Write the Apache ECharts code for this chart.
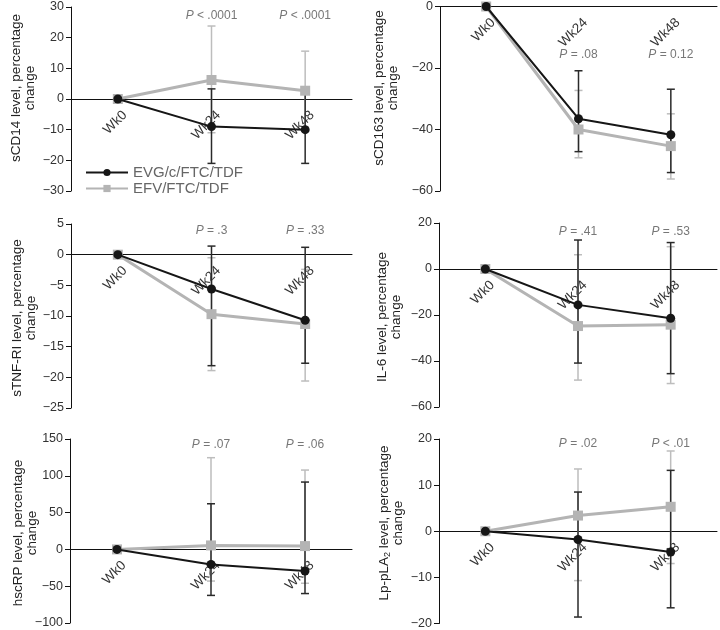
<!DOCTYPE html>
<html>
<head>
<meta charset="utf-8">
<script src="https://cdn.jsdelivr.net/npm/echarts@6/dist/echarts.min.js"></script>
<style>html,body{margin:0;padding:0;background:#fff}#c{width:720px;height:630px}</style>
</head>
<body>
<div id="c"></div>
<script>
// ---------- DATA ----------
const categories = ['Wk0', 'Wk24', 'Wk48'];
const seriesNames = ['EVG/c/FTC/TDF', 'EFV/FTC/TDF'];

const sCD14_evg = [0, -9, -10];
const sCD14_evgLo = [0, -21, -21];
const sCD14_evgHi = [0, 3.3, 2.6];
const sCD14_efv = [0, 6.2, 2.7];
const sCD14_efvLo = [0, -11, -10];
const sCD14_efvHi = [0, 23.8, 15.6];
const sCD14_p = ['<', '.0001', '<', '.0001'];

const sCD163_evg = [0, -36.5, -41.7];
const sCD163_evgLo = [0, -47.2, -54];
const sCD163_evgHi = [0, -20.9, -26.9];
const sCD163_efv = [0, -40, -45.4];
const sCD163_efvLo = [0, -49.2, -56.1];
const sCD163_efvHi = [0, -27.3, -34.9];
const sCD163_p = ['=', '.08', '=', '0.12'];

const sTNF_evg = [0, -5.6, -10.7];
const sTNF_evgLo = [0, -18.1, -17.7];
const sTNF_evgHi = [0, 1.4, 1.2];
const sTNF_efv = [0, -9.7, -11.3];
const sTNF_efvLo = [0, -18.9, -20.6];
const sTNF_efvHi = [0, -0.5, -2.4];
const sTNF_p = ['=', '.3', '=', '.33'];

const IL6_evg = [0, -15.6, -21.4];
const IL6_evgLo = [0, -40.9, -45.5];
const IL6_evgHi = [0, 12.6, 11.5];
const IL6_efv = [0, -24.8, -24.2];
const IL6_efvLo = [0, -48.3, -49.8];
const IL6_efvHi = [0, 6.2, 9.7];
const IL6_p = ['=', '.41', '=', '.53'];

const hscRP_evg = [0, -20.4, -29.5];
const hscRP_evgLo = [0, -62.5, -60];
const hscRP_evgHi = [0, 62, 91.5];
const hscRP_efv = [0, 5.4, 4.5];
const hscRP_efvLo = [0, -43, -46];
const hscRP_efvHi = [0, 124.6, 107.8];
const hscRP_p = ['=', '.07', '=', '.06'];

const LpPLA2_evg = [0, -1.8, -4.5];
const LpPLA2_evgLo = [0, -18.6, -16.6];
const LpPLA2_evgHi = [0, 8.5, 13.2];
const LpPLA2_efv = [0, 3.4, 5.3];
const LpPLA2_efvLo = [0, -10.7, -7];
const LpPLA2_efvHi = [0, 13.5, 17.4];
const LpPLA2_p = ['=', '.02', '<', '.01'];

const yTicks = [
  {min: -30, max: 30, interval: 10},
  {min: -60, max: 0, interval: 20},
  {min: -25, max: 5, interval: 5},
  {min: -60, max: 20, interval: 20},
  {min: -100, max: 150, interval: 50},
  {min: -20, max: 20, interval: 10}
];

// ---------- LAYOUT / STYLE ----------
const FONT = "'Liberation Sans', Arial, sans-serif";
const BLACK = '#161616';
const GRAY = '#b4b4b4';
const BLACK_ERR = '#2a2a2a';
const GRAY_ERR = '#bdbdbd';

const panels = [
  {name: ['{a|sCD14 level, percentage}', '{a|change}'], evg: sCD14_evg, evgLo: sCD14_evgLo, evgHi: sCD14_evgHi, efv: sCD14_efv, efvLo: sCD14_efvLo, efvHi: sCD14_efvHi, p: sCD14_p,
   grid: {left: 71, top: 7, width: 281, height: 184}, nameXY: [23, 88], pY: 16},
  {name: ['{a|sCD163 level, percentage}', '{a|change}'], evg: sCD163_evg, evgLo: sCD163_evgLo, evgHi: sCD163_evgHi, efv: sCD163_efv, efvLo: sCD163_efvLo, efvHi: sCD163_efvHi, p: sCD163_p,
   grid: {left: 440, top: 6, width: 277, height: 185}, nameXY: [386, 88], pY: 55},
  {name: ['{a|sTNF-RI level, percentage}', '{a|change}'], evg: sTNF_evg, evgLo: sTNF_evgLo, evgHi: sTNF_evgHi, efv: sTNF_efv, efvLo: sTNF_efvLo, efvHi: sTNF_efvHi, p: sTNF_p,
   grid: {left: 71, top: 224, width: 281, height: 184}, nameXY: [24, 318], pY: 231},
  {name: ['{a|IL-6 level, percentage}', '{a|change}'], evg: IL6_evg, evgLo: IL6_evgLo, evgHi: IL6_evgHi, efv: IL6_efv, efvLo: IL6_efvLo, efvHi: IL6_efvHi, p: IL6_p,
   grid: {left: 439, top: 223, width: 278, height: 184}, nameXY: [389, 317], pY: 232},
  {name: ['{a|hscRP level, percentage}', '{a|change}'], evg: hscRP_evg, evgLo: hscRP_evgLo, evgHi: hscRP_evgHi, efv: hscRP_efv, efvLo: hscRP_efvLo, efvHi: hscRP_efvHi, p: hscRP_p,
   grid: {left: 70, top: 439, width: 282, height: 184}, nameXY: [25, 533], pY: 445},
  {name: ['{a|Lp-pLA}{s|2}{a| level, percentage}', '{a|change}'], evg: LpPLA2_evg, evgLo: LpPLA2_evgLo, evgHi: LpPLA2_evgHi, efv: LpPLA2_efv, efvLo: LpPLA2_efvLo, efvHi: LpPLA2_efvHi, p: LpPLA2_p,
   grid: {left: 439, top: 439, width: 278, height: 185}, nameXY: [391, 523], pY: 444}
];

const grids = [], xAxes = [], yAxes = [], series = [], graphics = [];

function errSeries(idx, lo, hi, color) {
  const data = [];
  for (let i = 1; i < categories.length; i++) data.push([i, lo[i], hi[i]]);
  return {
    type: 'custom', xAxisIndex: idx, yAxisIndex: idx, silent: true, z: 3,
    data: data,
    renderItem: function (params, api) {
      const x = api.value(0);
      const a = api.coord([x, api.value(1)]);
      const b = api.coord([x, api.value(2)]);
      const w = 4;
      const st = {stroke: color, lineWidth: 1.5};
      return {type: 'group', children: [
        {type: 'line', shape: {x1: a[0], y1: a[1], x2: b[0], y2: b[1]}, style: st},
        {type: 'line', shape: {x1: a[0] - w, y1: a[1], x2: a[0] + w, y2: a[1]}, style: st},
        {type: 'line', shape: {x1: b[0] - w, y1: b[1], x2: b[0] + w, y2: b[1]}, style: st}
      ]};
    }
  };
}

panels.forEach(function (p, idx) {
  grids.push(Object.assign({containLabel: false}, p.grid));
  xAxes.push({
    gridIndex: idx, type: 'category', data: categories, boundaryGap: true,
    axisLine: {onZero: true, lineStyle: {color: '#111', width: 1}},
    axisTick: {show: false},
    axisLabel: {show: false}
  });
  const t = yTicks[idx];
  yAxes.push({
    gridIndex: idx, type: 'value', min: t.min, max: t.max, interval: t.interval,
    axisLine: {show: true, onZero: false, lineStyle: {color: '#111', width: 1}},
    axisTick: {show: true, length: 5, lineStyle: {color: '#111'}},
    splitLine: {show: false},
    axisLabel: {fontSize: 12.5, color: '#333', fontFamily: FONT, margin: 7,
      formatter: function (v) { return String(v).replace('-', '\u2212'); }}
  });
  // category labels drawn along the zero line (rotated 45°)
  series.push({
    type: 'custom', xAxisIndex: idx, yAxisIndex: idx, silent: true, z: 2,
    data: categories.map(function (c, i) { return [i, 0]; }),
    renderItem: function (params, api) {
      const c = api.coord([api.value(0), 0]);
      return {type: 'text', x: c[0] + 7, y: c[1] + 14, rotation: Math.PI / 4, style: {
        text: categories[params.dataIndex], align: 'right', verticalAlign: 'middle',
        fontSize: 13.5, fill: '#333', fontFamily: FONT
      }};
    }
  });
  series.push(errSeries(idx, p.efvLo, p.efvHi, GRAY_ERR));
  series.push({
    name: seriesNames[1], type: 'line', xAxisIndex: idx, yAxisIndex: idx, data: p.efv,
    symbol: 'rect', symbolSize: 10, z: 4,
    lineStyle: {color: GRAY, width: 3}, itemStyle: {color: GRAY}
  });
  series.push(errSeries(idx, p.evgLo, p.evgHi, BLACK_ERR));
  series.push({
    name: seriesNames[0], type: 'line', xAxisIndex: idx, yAxisIndex: idx, data: p.evg,
    symbol: 'circle', symbolSize: 9, z: 6,
    lineStyle: {color: BLACK, width: 2}, itemStyle: {color: BLACK}
  });
  // P-value labels
  const pv = p.p;
  series.push({
    type: 'custom', xAxisIndex: idx, yAxisIndex: idx, silent: true, z: 7,
    data: [[1, 0], [2, 0]],
    renderItem: function (params, api) {
      const c = api.coord([api.value(0), 0]);
      const k = params.dataIndex;
      return {type: 'text', x: c[0], y: p.pY, style: {
        text: '{i|P} {n|' + pv[2 * k] + ' ' + pv[2 * k + 1] + '}',
        align: 'center', verticalAlign: 'middle',
        rich: {
          i: {fontStyle: 'italic', fontSize: 12, fill: '#777', fontFamily: FONT},
          n: {fontSize: 12, fill: '#777', fontFamily: FONT}
        }
      }};
    }
  });
  graphics.push({
    type: 'text', x: p.nameXY[0], y: p.nameXY[1], rotation: Math.PI / 2,
    style: {
      text: p.name.join('\n'), align: 'center', verticalAlign: 'middle',
      rich: {
        a: {fontSize: 13.5, fill: '#222', fontFamily: FONT, lineHeight: 14, align: 'center'},
        s: {fontSize: 9, fill: '#222', fontFamily: FONT, lineHeight: 14, padding: [7, 0, 0, 0]}
      }
    }
  });
});

const chart = echarts.init(document.getElementById('c'), null, {renderer: 'canvas'});
chart.setOption({
  animation: false,
  backgroundColor: '#fff',
  textStyle: {fontFamily: FONT},
  grid: grids, xAxis: xAxes, yAxis: yAxes, series: series,
  graphic: graphics,
  legend: {
    data: seriesNames, orient: 'vertical', left: 80, top: 160,
    itemWidth: 42, itemHeight: 9, itemGap: 1,
    textStyle: {fontSize: 15, color: '#666', fontFamily: FONT}
  }
});
</script>
</body>
</html>
